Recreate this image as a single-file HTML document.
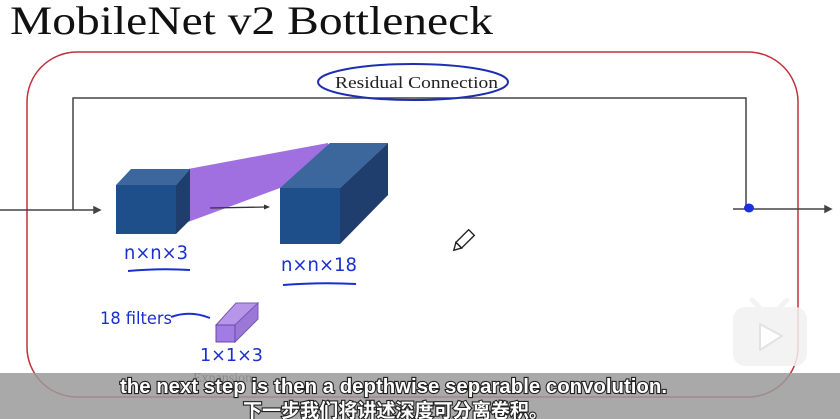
<!DOCTYPE html>
<html><head><meta charset="utf-8"><style>
html,body{margin:0;padding:0;background:#fff;width:840px;height:419px;overflow:hidden}
svg{display:block}
.sub{font-family:"Liberation Sans","Noto Sans CJK SC",sans-serif;fill:#fff;stroke:#222;stroke-width:2.2px;paint-order:stroke;font-weight:bold}
.hw{font-family:"DejaVu Sans",sans-serif;fill:#1a2fd0}
</style></head><body>
<svg width="840" height="419" viewBox="0 0 840 419">
<text x="10" y="34" font-family="Liberation Serif,serif" font-size="40" fill="#111" textLength="483" lengthAdjust="spacingAndGlyphs">MobileNet v2 Bottleneck</text>
<rect x="27" y="52" width="771" height="345" rx="50" fill="none" stroke="#c0303a" stroke-width="1.5"/>
<g stroke="#444" stroke-width="1.5" fill="none">
<polyline points="0,210 98,210"/><polygon points="100,210 94,207 94,213" fill="#444"/>
<polyline points="73,210 73,98 746,98 746,208"/>
<polyline points="733,209 828,209"/><polygon points="831,209 825,206 825,212" fill="#444"/>
</g>
<ellipse cx="413" cy="82" rx="95" ry="18" fill="none" stroke="#1d2fb0" stroke-width="2"/>
<text x="335" y="88" font-family="Liberation Serif,serif" font-size="17" fill="#222" textLength="163" lengthAdjust="spacingAndGlyphs">Residual Connection</text>
<ellipse cx="749" cy="208" rx="5" ry="4.5" fill="#1a2fe0"/>
<polygon points="188,169 328,143 340,188 340,244 280,244 280,188 188,222" fill="#a070e0"/>
<line x1="210" y1="208" x2="266" y2="207" stroke="#333" stroke-width="1.3"/><polygon points="270,207 264,204.5 264,209.5" fill="#333"/>
<g>
<polygon points="116,185 131,169 190,169 176,185" fill="#3c679c"/>
<polygon points="176,185 190,169 190,220 176,234" fill="#1f3e6e"/>
<rect x="116" y="185" width="60" height="49" fill="#1f4f8a"/>
</g>
<g>
<polygon points="280,188 330,143 388,143 340,188" fill="#3c679c"/>
<polygon points="340,188 388,143 388,195 340,244" fill="#1f3e6e"/>
<rect x="280" y="188" width="60" height="56" fill="#1f4f8a"/>
</g>
<g>
<polygon points="216,325 236,303 258,303 235,325" fill="#b796ea" stroke="#7a5ab0"/>
<polygon points="235,325 258,303 258,319 235,342" fill="#9a78d8" stroke="#7a5ab0"/>
<rect x="216" y="325" width="19" height="17" fill="#a07ce4" stroke="#6a4aa0"/>
</g>
<text class="hw" x="124" y="259" font-size="19" textLength="64" lengthAdjust="spacingAndGlyphs">n×n×3</text>
<path d="M128 271 Q160 268 190 270" stroke="#1a2fd0" stroke-width="2" fill="none"/>
<text class="hw" x="281" y="271" font-size="19" textLength="76" lengthAdjust="spacingAndGlyphs">n×n×18</text>
<path d="M283 285 Q320 282 356 284" stroke="#1a2fd0" stroke-width="2" fill="none"/>
<text class="hw" x="100" y="324" font-size="17" textLength="72" lengthAdjust="spacingAndGlyphs">18 filters</text>
<path d="M171 317 Q190 310 210 318" stroke="#1a2fd0" stroke-width="2" fill="none"/>
<text class="hw" x="200" y="361" font-size="18" textLength="63" lengthAdjust="spacingAndGlyphs">1×1×3</text>
<text x="193" y="382" font-family="Liberation Serif,serif" font-size="14" fill="#333">Expansion</text>
<g transform="translate(463,241) rotate(45)"><rect x="-4" y="-12" width="8" height="18" fill="#fff" stroke="#222" stroke-width="1.4"/><polygon points="-4,6 4,6 0,13" fill="#fff" stroke="#222" stroke-width="1.4"/></g>
<g opacity="0.85">
<rect x="733" y="307" width="74" height="59" rx="12" fill="#f2f2f2"/>
<line x1="752" y1="300" x2="760" y2="308" stroke="#f2f2f2" stroke-width="5" stroke-linecap="round"/>
<line x1="787" y1="300" x2="779" y2="308" stroke="#f2f2f2" stroke-width="5" stroke-linecap="round"/>
<polygon points="760,324 782,336 760,350" fill="#fff" stroke="#ddd" stroke-width="2" stroke-linejoin="round"/>
</g>
<rect x="0" y="373" width="840" height="46" fill="#9a9a9a" opacity="0.85"/>
<text class="sub" x="120" y="393" font-size="20" textLength="547" lengthAdjust="spacingAndGlyphs">the next step is then a depthwise separable convolution.</text>
<text class="sub" x="243" y="417" font-size="19" textLength="305" lengthAdjust="spacingAndGlyphs">下一步我们将讲述深度可分离卷积。</text>
</svg>
</body></html>
